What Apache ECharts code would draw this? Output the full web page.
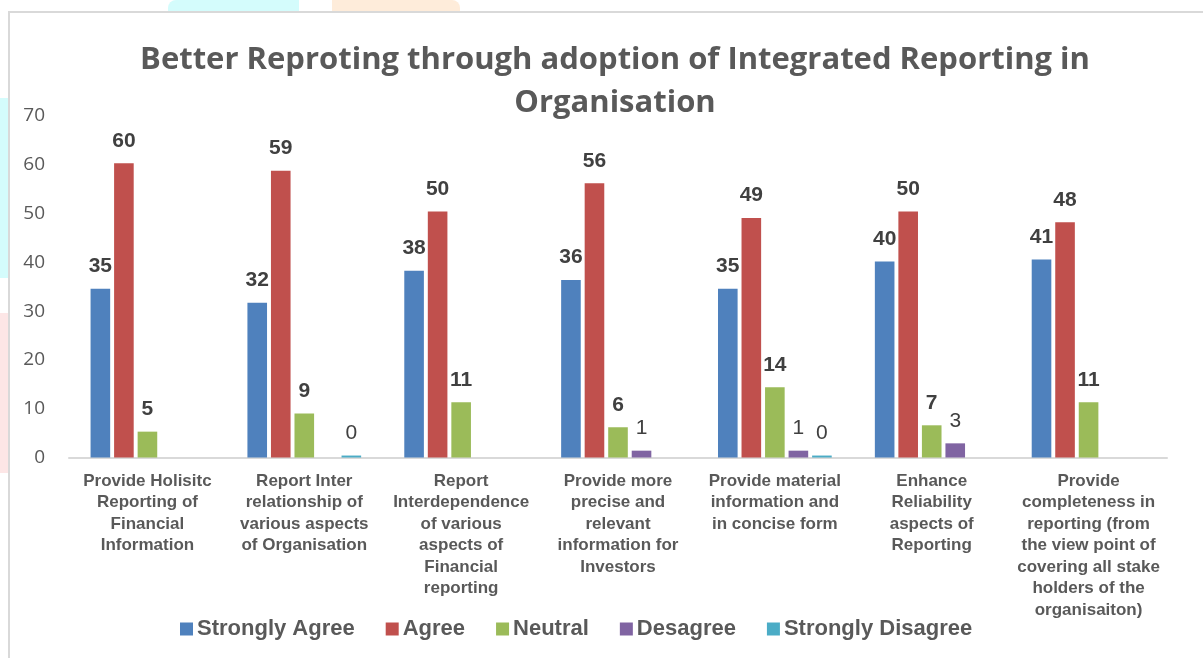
<!DOCTYPE html>
<html>
<head>
<meta charset="utf-8">
<script src="https://cdn.jsdelivr.net/npm/echarts@6/dist/echarts.min.js"></script>
<style>
  html, body { margin: 0; padding: 0; background: #ffffff; }
  #chart { width: 1203px; height: 658px; }
</style>
</head>
<body>
<div id="chart"></div>
<script>
// ---- data ----
const titleText = 'Better Reproting through adoption of Integrated Reporting in\nOrganisation';
const categories = [
  'Provide Holisitc\nReporting of\nFinancial\nInformation',
  'Report Inter\nrelationship of\nvarious aspects\nof Organisation',
  'Report\nInterdependence\nof various\naspects of\nFinancial\nreporting',
  'Provide more\nprecise and\nrelevant\ninformation for\nInvestors',
  'Provide material\ninformation and\nin concise form',
  'Enhance\nReliability\naspects of\nReporting',
  'Provide\ncompleteness in\nreporting (from\nthe view point of\ncovering all stake\nholders of the\norganisaiton)'
];
const seriesNames = ['Strongly Agree', 'Agree', 'Neutral', 'Desagree', 'Strongly Disagree'];
const stronglyAgree    = [34.6, 31.7, 38.3, 36.4, 34.6, 40.2, 40.6];
const agree            = [60.3, 58.8, 50.4, 56.2, 49.1, 50.4, 48.2];
const neutral          = [5.3, 9.0, 11.3, 6.2, 14.4, 6.6, 11.3];
const desagree         = [null, null, null, 1.4, 1.4, 2.9, null];
const stronglyDisagree = [null, 0.4, null, null, 0.4, null, null];
const yTicks = { min: 0, max: 70, interval: 10 };

const colors = ['#4F81BD', '#C0504D', '#9BBB59', '#8064A2', '#4BACC6'];
const seriesData = [stronglyAgree, agree, neutral, desagree, stronglyDisagree];
const boldLabel = [true, true, true, false, false];

const chart = echarts.init(document.getElementById('chart'), null, { renderer: 'canvas' });

const series = seriesNames.map((name, i) => ({
  name: name,
  type: 'bar',
  data: seriesData[i],
  barGap: '20%',
  barCategoryGap: '27.5%',
  itemStyle: { color: colors[i] },
  label: {
    show: true,
    position: 'top',
    distance: 12,
    color: '#404040',
    fontFamily: '"Liberation Sans", Arial, sans-serif',
    fontSize: 21,
    fontWeight: boldLabel[i] ? 'bold' : 'normal',
    formatter: p => (p.value == null ? '' : String(Math.round(p.value)))
  }
}));

const option = {
  backgroundColor: '#ffffff',
  animation: false,
  color: colors,
  title: {
    text: titleText,
    left: 610,
    top: 34,
    textAlign: 'center',
    textStyle: {
      fontFamily: '"Open Sans", sans-serif',
      fontWeight: 'bold',
      fontSize: 31,
      lineHeight: 43,
      color: '#595959'
    }
  },
  legend: {
    data: seriesNames,
    left: 175,
    top: 613,
    icon: 'rect',
    itemWidth: 13,
    itemHeight: 13,
    itemGap: 31,
    textStyle: {
      fontFamily: '"Liberation Sans", Arial, sans-serif',
      fontWeight: 'bold',
      fontSize: 22,
      color: '#595959',
      padding: [0, 0, 0, -1]
    }
  },
  grid: { left: 69, right: 36, top: 116, bottom: 200.5, containLabel: false },
  xAxis: {
    type: 'category',
    data: categories,
    axisLine: { show: true, lineStyle: { color: '#D9D9D9', width: 2 } },
    axisTick: { show: false },
    axisLabel: {
      interval: 0,
      margin: 13,
      fontFamily: '"Liberation Sans", Arial, sans-serif',
      fontWeight: 'bold',
      fontSize: 17,
      lineHeight: 21.5,
      color: '#595959'
    }
  },
  yAxis: {
    type: 'value',
    min: yTicks.min,
    max: yTicks.max,
    interval: yTicks.interval,
    axisLine: { show: false },
    axisTick: { show: false },
    splitLine: { show: false },
    axisLabel: {
      margin: 24,
      fontFamily: '"Open Sans", sans-serif',
      fontSize: 19,
      color: '#595959'
    }
  },
  graphic: [
    { type: 'rect', z: -10, shape: { x: 168, y: 0, width: 131, height: 11, r: [8, 0, 0, 0] }, style: { fill: '#D4FCFC' } },
    { type: 'rect', z: -10, shape: { x: 332, y: 0, width: 128, height: 11, r: [0, 8, 0, 0] }, style: { fill: '#FEECDA' } },
    { type: 'rect', z: -10, shape: { x: 0, y: 98, width: 8, height: 180 }, style: { fill: '#D4FCFC' } },
    { type: 'rect', z: -10, shape: { x: 0, y: 313, width: 8, height: 160 }, style: { fill: '#FDE6E6' } },
    { type: 'polyline', z: -5, shape: { points: [[9, 658], [9, 12], [1203, 12]] }, style: { stroke: '#D9D9D9', lineWidth: 2, fill: null } }
  ],
  series: series
};

chart.setOption(option);
</script>
</body>
</html>
